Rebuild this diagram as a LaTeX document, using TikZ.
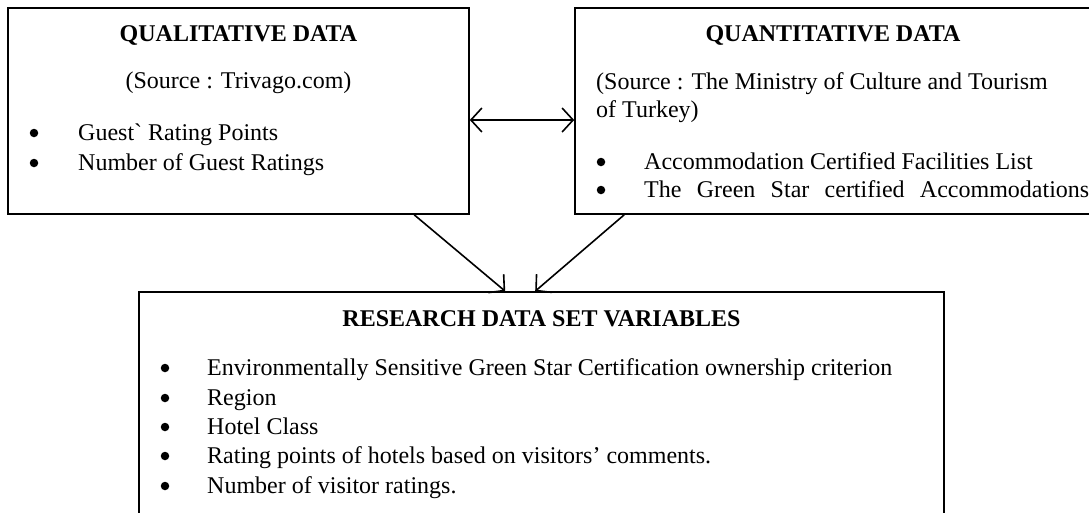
\documentclass[tikz,border=0pt]{standalone}
\usepackage{fontspec}
\setmainfont{Liberation Serif}
\newfontfamily\gravefont{Liberation Serif}
\usetikzlibrary{arrows.meta}
\begin{document}
\begin{tikzpicture}[x=1pt,y=1pt,
  font=\fontsize{24}{29}\selectfont,
  box/.style={draw, line width=1.6pt, inner sep=0pt},
  txt/.style={anchor=base west, inner sep=0pt},
  ctr/.style={anchor=base, inner sep=0pt},
  bul/.style={circle, fill=black, inner sep=0pt, minimum size=8.5pt},
  ttl/.style={anchor=base, inner sep=0pt, font=\fontsize{24}{29}\selectfont\bfseries},
  arr/.style={line width=1.6pt, -{Straight Barb[length=11pt,width=24pt,line width=1.6pt]}},
  darr/.style={line width=1.6pt, {Straight Barb[length=11pt,width=24pt,line width=1.6pt]}-{Straight Barb[length=11pt,width=24pt,line width=1.6pt]}}]
\useasboundingbox (0,0) rectangle (1089,-512);
\clip (0,0) rectangle (1089,-512);
\fill[white] (0,0) rectangle (1089,-512);

% boxes
\node[box, minimum width=461pt, minimum height=206pt] (qual) at (238.5,-111) {};
\node[box, minimum width=525pt, minimum height=206pt] (quant) at (837.5,-111) {};
\node[box, minimum width=805pt, minimum height=240pt] (res) at (541.5,-412) {};

% left box text
\node[ttl] (qt) at (238.5,-41) {QUALITATIVE DATA};
\node[ctr] (qs) at (238.5,-88) {(Source : Trivago.com)};
\node[bul] (qb1) at (34,-133) {};
\node[txt] (ql1) at (78,-140) {Guest{\gravefont`} Rating Points};
\node[bul] (qb2) at (34,-163) {};
\node[txt] (ql2) at (78,-170) {Number of Guest Ratings};

% right box text
\node[ttl] (nt) at (833,-41) {QUANTITATIVE DATA};
\node[txt] (ns1) at (596,-89) {(Source : The Ministry of Culture and Tourism};
\node[txt] (ns2) at (596,-117) {of Turkey)};
\node[bul] (nb1) at (601,-162) {};
\node[txt] (nl1) at (644,-169) {Accommodation Certified Facilities List};
\node[bul] (nb2) at (601,-190) {};
\node[txt] (nl2) at (644,-197) {\makebox[445pt][s]{The Green Star certified Accommodations}};

% research box text
\node[ttl] (rt) at (541.5,-326) {RESEARCH DATA SET VARIABLES};
\node[bul] (rb1) at (165,-368) {};
\node[txt] (rl1) at (207,-375) {Environmentally Sensitive Green Star Certification ownership criterion};
\node[bul] (rb2) at (165,-398) {};
\node[txt] (rl2) at (207,-405) {Region};
\node[bul] (rb3) at (165,-427) {};
\node[txt] (rl3) at (207,-434) {Hotel Class};
\node[bul] (rb4) at (165,-456) {};
\node[txt] (rl4) at (207,-463) {Rating points of hotels based on visitors’ comments.};
\node[bul] (rb5) at (165,-486) {};
\node[txt] (rl5) at (207,-493) {Number of visitor ratings.};

% connectors
\draw[darr] ([yshift=-9pt]qual.east) -- ([yshift=-9pt]quant.west);
\draw[arr] ([xshift=407pt]qual.south west) -- ([xshift=367pt]res.north west);
\draw[arr] ([xshift=50pt]quant.south west) -- ([xshift=397pt]res.north west);
\end{tikzpicture}
\end{document}
